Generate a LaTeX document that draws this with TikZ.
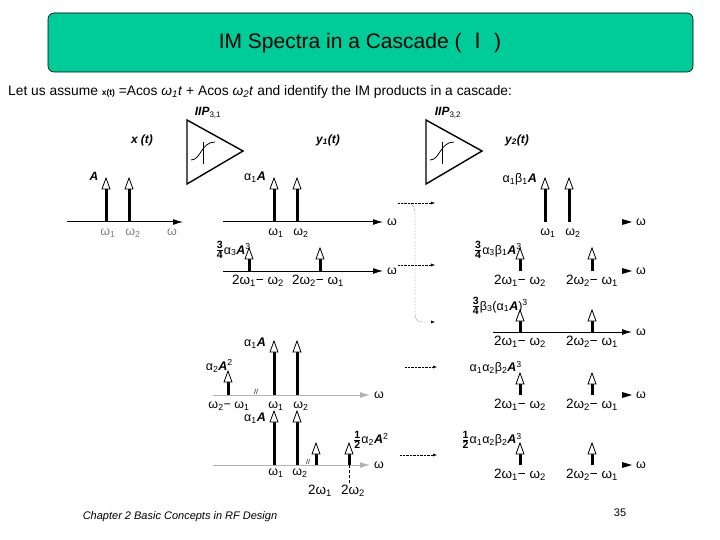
\documentclass[tikz,border=0pt]{standalone}
\usepackage{fontspec}
\setmainfont{Liberation Sans}
\newfontfamily\cjk{Noto Sans CJK SC}
\usetikzlibrary{arrows.meta}
\newcommand\fr[2]{{\fontsize{15}{15}\selectfont$\frac{\mathbf{#1}}{\mathbf{#2}}$}}
\newcommand\spk[3]{%
 \draw[line width=3pt] (#1,#2) -- (#1,#3+10);
 \draw[line width=0.8pt,fill=white] (#1-4,#3+11) -- (#1,#3) -- (#1+4,#3+11) -- cycle;}
\newcommand\ax[4]{%
 \draw[line width=1pt,#4,-{Latex[length=10pt,width=6pt]}] (#1,#3) -- (#2,#3);
 \node[lbl] at (#2+9,#3) {ω};}
\newcommand\tip[2]{\fill (#1-10,#2-3) -- (#1,#2) -- (#1-10,#2+3) -- cycle; \node[lbl] at (#1+9,#2) {ω};}
\newcommand\amp[2]{%
 \draw[line width=1.4pt] (#1,#2) -- (#1+56,#2+31) -- (#1,#2+64) -- cycle;
 \draw[line width=0.8pt] (#1+4,#2+40) .. controls (#1+14,#2+40) and (#1+14,#2+22) .. (#1+28,#2+22);
 \draw[line width=0.8pt] (#1+16,#2+22) -- (#1+16,#2+44);}
\begin{document}
\begin{tikzpicture}[x=1pt,y=-1pt,lbl/.style={font=\fontsize{12.5}{13}\selectfont,inner sep=0pt},
 big/.style={font=\fontsize{13.5}{15}\selectfont,inner sep=0pt},
 it/.style={font=\fontsize{12}{13}\selectfont\itshape\bfseries,inner sep=0pt}]
\useasboundingbox (0,0) rectangle (720,540);
\fill[white] (0,0) rectangle (720,540);
\draw[fill={rgb,255:red,0;green,204;blue,153},rounded corners=6pt,line width=0.6pt] (48,13) rectangle (693,72);
\node[font=\fontsize{21}{24}\selectfont] (title) at (360,43) {IM Spectra in a Cascade ( {\cjk Ⅰ} )};
\node[anchor=west,inner sep=0pt,font=\fontsize{13.8}{16}\selectfont] (intro) at (8,92) {Let us assume {\fontsize{8.5}{9}\selectfont\bfseries x(t)} =Acos \textit{ω\textsubscript{1}t} + Acos \textit{ω\textsubscript{2}t} and identify the IM products in a cascade:};
\amp{187}{120}\amp{426}{120}
\node[it] at (208,113) {IIP\textsubscript{\normalfont 3,1}};
\node[it] at (448,113) {IIP\textsubscript{\normalfont 3,2}};
\node[it] at (142,140) {x (t)};
\node[it] at (328,140) {y\textsubscript{1}(t)};
\node[it] at (517,140) {y\textsubscript{2}(t)};
% x(t)
\draw[line width=1pt,-{Latex[length=10pt,width=6pt]}] (67,222) -- (183,222);
\spk{106}{222}{178}\spk{129}{222}{178}
\node[it] at (94,176) {A};
\node[lbl,gray] at (108,233) {ω\textsubscript{1}};\node[lbl,gray] at (133,233) {ω\textsubscript{2}};\node[lbl,gray] at (172,232) {ω};
% y1 row1
\ax{223}{383}{222}{black}
\spk{274}{222}{178}\spk{297}{222}{178}
\node[lbl,anchor=east] at (266,177) {α\textsubscript{1}\textbf{\textit{A}}};
\node[lbl] at (276,233) {ω\textsubscript{1}};\node[lbl] at (301,233) {ω\textsubscript{2}};
% y1 row2
\ax{223}{383}{271}{black}
\spk{249}{271}{248}\spk{320}{271}{248}
\node[lbl,anchor=east] at (251,250) {\fr34α\textsubscript{3}\textbf{\textit{A}}\textsuperscript{3}};
\node[big] at (258,281) {2ω\textsubscript{1}− ω\textsubscript{2}};
\node[big] at (318,281) {2ω\textsubscript{2}− ω\textsubscript{1}};
% dotted connectors
\draw[densely dotted,-{Latex[length=4pt,width=3pt]}] (398,203) -- (408,203) to[out=0,in=90] (415,212) -- (415,315) to[out=-90,in=180] (422,322) -- (435,322);
\draw[densely dotted,-{Latex[length=4pt,width=3pt]}] (398,203) -- (435,203);
\draw[densely dotted,-{Latex[length=4pt,width=3pt]}] (398,265) -- (435,265);
\draw[densely dotted,-{Latex[length=4pt,width=3pt]}] (405,367) -- (437,367);
\draw[densely dotted,-{Latex[length=4pt,width=3pt]}] (400,455) -- (437,455);
% y2 row1
\tip{632}{222}
\spk{545}{222}{178}\spk{569}{222}{178}
\node[lbl,anchor=east] at (537,179) {α\textsubscript{1}β\textsubscript{1}\textbf{\textit{A}}};
\node[lbl] at (548,233) {ω\textsubscript{1}};\node[lbl] at (573,233) {ω\textsubscript{2}};
% y2 row2
\tip{632}{271}
\spk{520}{271}{248}\spk{592}{271}{248}
\node[lbl,anchor=east] at (522,250) {\fr34α\textsubscript{3}β\textsubscript{1}\textbf{\textit{A}}\textsuperscript{3}};
\node[big] at (520,281) {2ω\textsubscript{1}− ω\textsubscript{2}};
\node[big] at (592,281) {2ω\textsubscript{2}− ω\textsubscript{1}};
% y2 row3
\ax{493}{632}{332}{black}
\spk{520}{332}{310}\spk{592}{332}{310}
\node[lbl,anchor=east] at (528,306) {\fr34β\textsubscript{3}(α\textsubscript{1}\textbf{\textit{A}})\textsuperscript{3}};
\node[big] at (520,342) {2ω\textsubscript{1}− ω\textsubscript{2}};
\node[big] at (592,342) {2ω\textsubscript{2}− ω\textsubscript{1}};
% lower left row4
\ax{213}{370}{395}{gray!60}
\spk{228}{395}{371}\spk{274}{395}{341}\spk{297}{395}{341}
\node[lbl,anchor=east] at (233,366) {α\textsubscript{2}\textbf{\textit{A}}\textsuperscript{2}};
\node[lbl,anchor=east] at (266,343) {α\textsubscript{1}\textbf{\textit{A}}};
\node[lbl] at (229,406) {ω\textsubscript{2}− ω\textsubscript{1}};
\node[lbl] at (276,406) {ω\textsubscript{1}};\node[lbl] at (301,406) {ω\textsubscript{2}};
\node[lbl,font=\fontsize{7}{7}\selectfont] at (256,392) {//};
% row5
\ax{213}{370}{465}{gray!60}
\spk{274}{465}{411}\spk{297}{465}{411}\spk{316}{465}{443}\spk{349}{465}{443}
\node[lbl,anchor=east] at (266,418) {α\textsubscript{1}\textbf{\textit{A}}};
\node[lbl,anchor=west] at (353,440) {\fr12α\textsubscript{2}\textbf{\textit{A}}\textsuperscript{2}};
\draw[densely dashed] (349,465) -- (349,483);
\node[lbl] at (276,473) {ω\textsubscript{1}};\node[lbl] at (300,473) {ω\textsubscript{2}};
\node[lbl,font=\fontsize{7}{7}\selectfont] at (308,462) {//};
\node[big] at (320,491) {2ω\textsubscript{1}};
\node[big] at (353,491) {2ω\textsubscript{2}};
% right row4
\tip{632}{395}
\spk{520}{395}{373}\spk{592}{395}{373}
\node[lbl,anchor=east] at (522,368) {α\textsubscript{1}α\textsubscript{2}β\textsubscript{2}\textbf{\textit{A}}\textsuperscript{3}};
\node[big] at (520,405) {2ω\textsubscript{1}− ω\textsubscript{2}};
\node[big] at (592,405) {2ω\textsubscript{2}− ω\textsubscript{1}};
% right row5
\tip{632}{465}
\spk{520}{465}{443}\spk{592}{465}{443}
\node[lbl,anchor=east] at (522,440) {\fr12α\textsubscript{1}α\textsubscript{2}β\textsubscript{2}\textbf{\textit{A}}\textsuperscript{3}};
\node[big] at (520,475) {2ω\textsubscript{1}− ω\textsubscript{2}};
\node[big] at (592,475) {2ω\textsubscript{2}− ω\textsubscript{1}};
% footer
\node[font=\fontsize{11}{12}\selectfont\itshape] (foot) at (180,517) {Chapter 2 Basic Concepts in RF Design};
\node[font=\fontsize{11}{12}\selectfont] (pg) at (620,513) {35};
\end{tikzpicture}
\end{document}
